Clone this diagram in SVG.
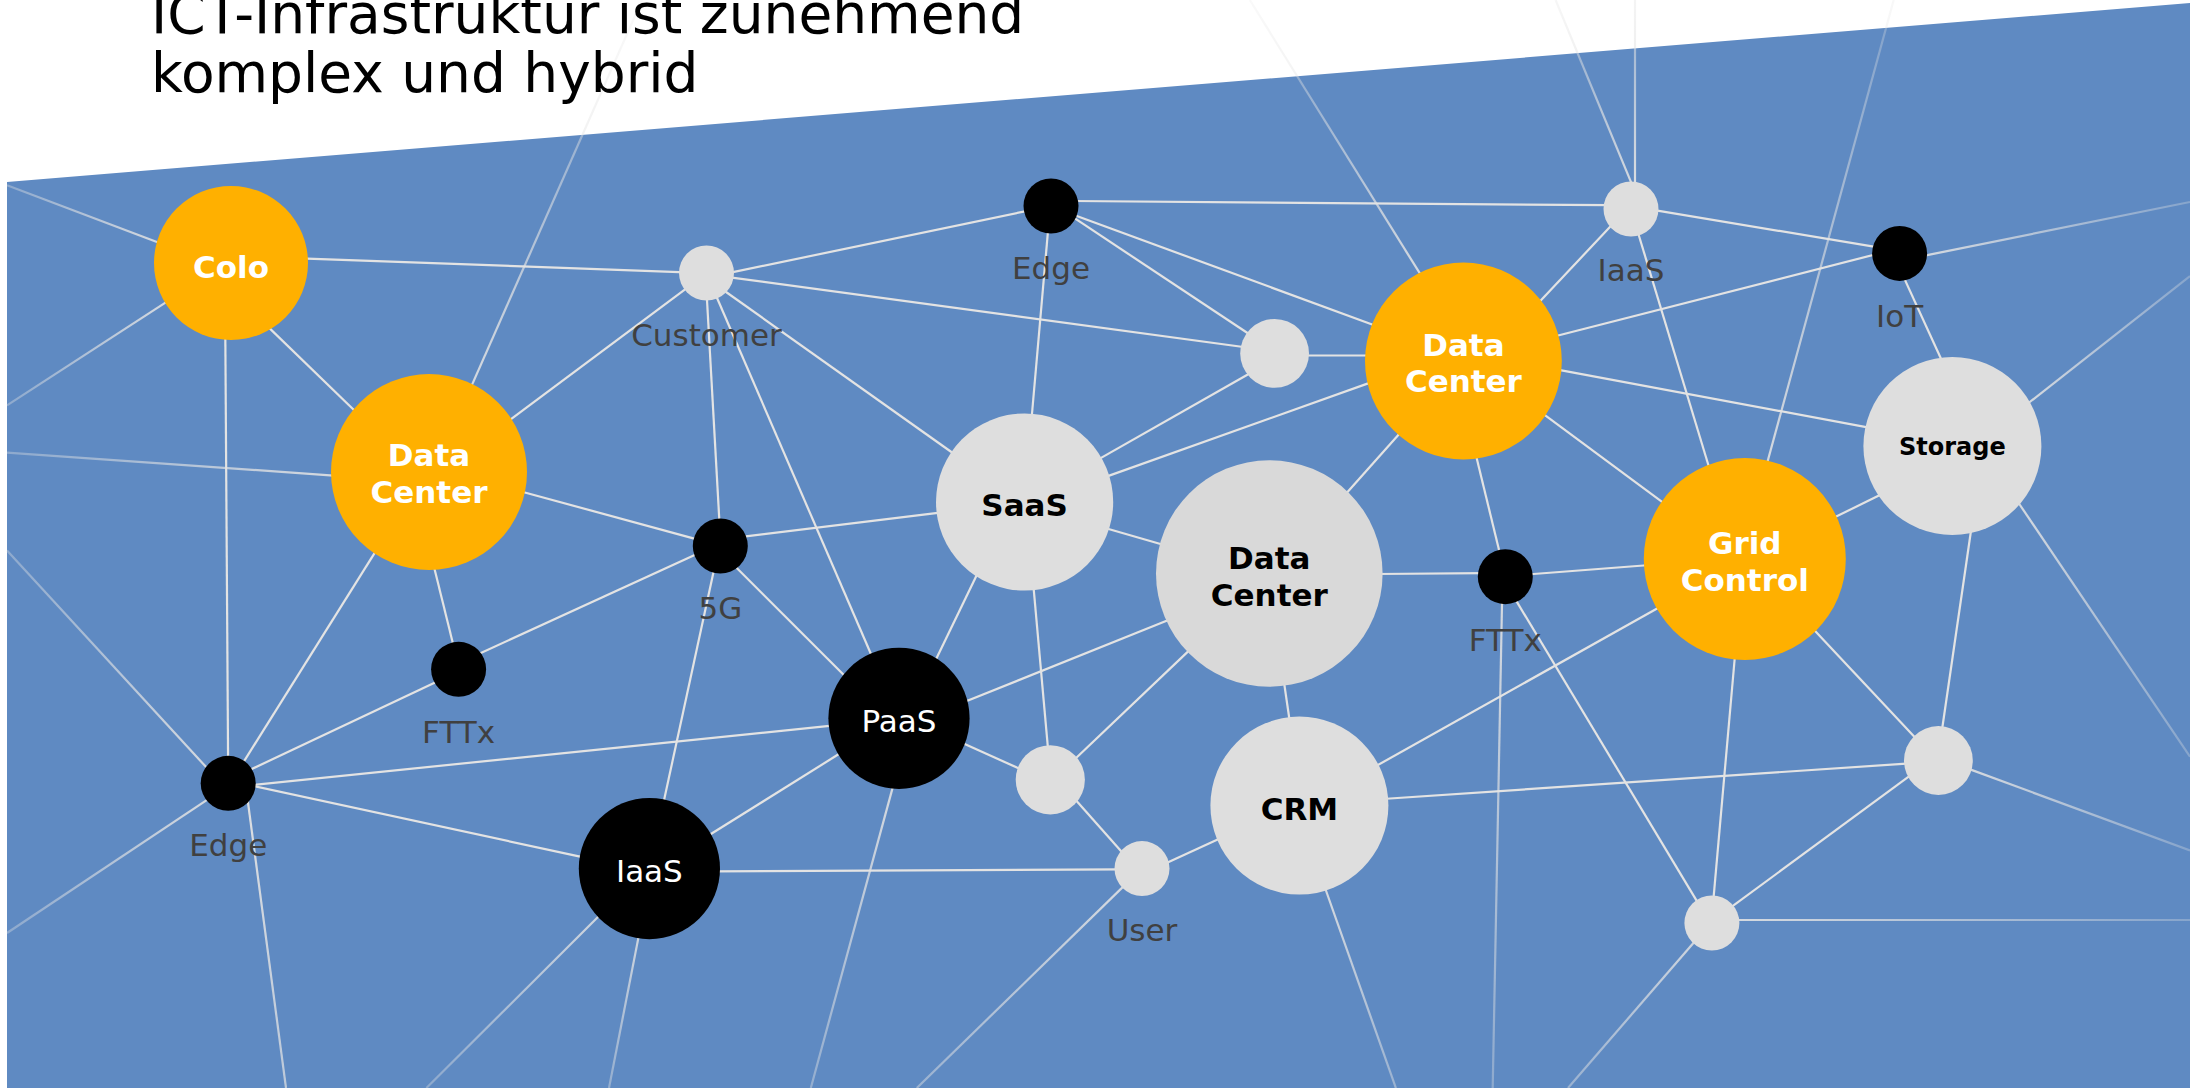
<svg xmlns="http://www.w3.org/2000/svg" width="2190" height="1088" viewBox="0 0 2190 1088">
<style>
.ln{stroke:#E3E3E3;stroke-width:2.2;fill:none;stroke-linecap:butt}
.ol{stroke-width:2.2;fill:none}
.org{fill:#FFB000}
.gry{fill:#DEDEDE}
.gry2{fill:#D9D9D9}
.blk{fill:#000000}
.t{font-family:"DejaVu Sans",Verdana,sans-serif;text-anchor:middle}
.lbl{font-size:31px;fill:#404040}
.bw{font-size:31px;font-weight:bold;fill:#FFFFFF}
.bb{font-size:31px;font-weight:bold;fill:#000000}
.nw{font-size:31px;fill:#FFFFFF}
.title{font-family:"DejaVu Sans",Verdana,sans-serif;font-size:55px;fill:#000000}
</style>
<defs>
<linearGradient id="o1" gradientUnits="userSpaceOnUse" x1="470.2" y1="388.9" x2="642" y2="0"><stop offset="0" stop-color="#E3E3E3" stop-opacity="0.9"/><stop offset="1" stop-color="#E3E3E3" stop-opacity="0.2"/></linearGradient>
<linearGradient id="o2" gradientUnits="userSpaceOnUse" x1="337" y1="475.8" x2="7" y2="452.6"><stop offset="0" stop-color="#E3E3E3" stop-opacity="0.9"/><stop offset="1" stop-color="#E3E3E3" stop-opacity="0.35"/></linearGradient>
<linearGradient id="o3" gradientUnits="userSpaceOnUse" x1="162.2" y1="244" x2="7" y2="185.2"><stop offset="0" stop-color="#E3E3E3" stop-opacity="0.9"/><stop offset="1" stop-color="#E3E3E3" stop-opacity="0.35"/></linearGradient>
<linearGradient id="o4" gradientUnits="userSpaceOnUse" x1="169.3" y1="300.1" x2="7" y2="405.4"><stop offset="0" stop-color="#E3E3E3" stop-opacity="0.9"/><stop offset="1" stop-color="#E3E3E3" stop-opacity="0.35"/></linearGradient>
<linearGradient id="o5" gradientUnits="userSpaceOnUse" x1="247.4" y1="798" x2="286" y2="1088"><stop offset="0" stop-color="#E3E3E3" stop-opacity="0.95"/><stop offset="1" stop-color="#E3E3E3" stop-opacity="0.7"/></linearGradient>
<linearGradient id="o6" gradientUnits="userSpaceOnUse" x1="210.3" y1="771.6" x2="7" y2="550.5"><stop offset="0" stop-color="#E3E3E3" stop-opacity="0.9"/><stop offset="1" stop-color="#E3E3E3" stop-opacity="0.35"/></linearGradient>
<linearGradient id="o7" gradientUnits="userSpaceOnUse" x1="211.2" y1="797.1" x2="7" y2="933"><stop offset="0" stop-color="#E3E3E3" stop-opacity="0.9"/><stop offset="1" stop-color="#E3E3E3" stop-opacity="0.35"/></linearGradient>
<linearGradient id="o8" gradientUnits="userSpaceOnUse" x1="1422.5" y1="277.7" x2="1249.8" y2="0"><stop offset="0" stop-color="#E3E3E3" stop-opacity="0.9"/><stop offset="1" stop-color="#E3E3E3" stop-opacity="0.2"/></linearGradient>
<linearGradient id="o9" gradientUnits="userSpaceOnUse" x1="1633.1" y1="187.2" x2="1555.6" y2="0"><stop offset="0" stop-color="#E3E3E3" stop-opacity="0.9"/><stop offset="1" stop-color="#E3E3E3" stop-opacity="0.3"/></linearGradient>
<linearGradient id="o10" gradientUnits="userSpaceOnUse" x1="1635" y1="188" x2="1635" y2="0"><stop offset="0" stop-color="#E3E3E3" stop-opacity="0.95"/><stop offset="1" stop-color="#E3E3E3" stop-opacity="0.4"/></linearGradient>
<linearGradient id="o11" gradientUnits="userSpaceOnUse" x1="1921" y1="256.4" x2="2190" y2="202"><stop offset="0" stop-color="#E3E3E3" stop-opacity="0.9"/><stop offset="1" stop-color="#E3E3E3" stop-opacity="0.3"/></linearGradient>
<linearGradient id="o12" gradientUnits="userSpaceOnUse" x1="1766.2" y1="466.5" x2="1893.7" y2="0"><stop offset="0" stop-color="#E3E3E3" stop-opacity="0.9"/><stop offset="1" stop-color="#E3E3E3" stop-opacity="0.25"/></linearGradient>
<linearGradient id="o13" gradientUnits="userSpaceOnUse" x1="2026" y1="405" x2="2190" y2="276"><stop offset="0" stop-color="#E3E3E3" stop-opacity="0.9"/><stop offset="1" stop-color="#E3E3E3" stop-opacity="0.3"/></linearGradient>
<linearGradient id="o14" gradientUnits="userSpaceOnUse" x1="2016.6" y1="500" x2="2190" y2="756.7"><stop offset="0" stop-color="#E3E3E3" stop-opacity="0.9"/><stop offset="1" stop-color="#E3E3E3" stop-opacity="0.3"/></linearGradient>
<linearGradient id="o15" gradientUnits="userSpaceOnUse" x1="1502.1" y1="598.7" x2="1492.7" y2="1088"><stop offset="0" stop-color="#E3E3E3" stop-opacity="0.9"/><stop offset="1" stop-color="#E3E3E3" stop-opacity="0.35"/></linearGradient>
<linearGradient id="o16" gradientUnits="userSpaceOnUse" x1="1324" y1="885" x2="1395.9" y2="1088"><stop offset="0" stop-color="#E3E3E3" stop-opacity="0.9"/><stop offset="1" stop-color="#E3E3E3" stop-opacity="0.45"/></linearGradient>
<linearGradient id="o17" gradientUnits="userSpaceOnUse" x1="1126.3" y1="883.6" x2="916.8" y2="1088"><stop offset="0" stop-color="#E3E3E3" stop-opacity="0.9"/><stop offset="1" stop-color="#E3E3E3" stop-opacity="0.45"/></linearGradient>
<linearGradient id="o18" gradientUnits="userSpaceOnUse" x1="893.9" y1="783.1" x2="810.8" y2="1088"><stop offset="0" stop-color="#E3E3E3" stop-opacity="0.9"/><stop offset="1" stop-color="#E3E3E3" stop-opacity="0.4"/></linearGradient>
<linearGradient id="o19" gradientUnits="userSpaceOnUse" x1="601.2" y1="913.8" x2="426.4" y2="1088"><stop offset="0" stop-color="#E3E3E3" stop-opacity="0.85"/><stop offset="1" stop-color="#E3E3E3" stop-opacity="0.35"/></linearGradient>
<linearGradient id="o20" gradientUnits="userSpaceOnUse" x1="639.2" y1="933.6" x2="609" y2="1088"><stop offset="0" stop-color="#E3E3E3" stop-opacity="0.85"/><stop offset="1" stop-color="#E3E3E3" stop-opacity="0.4"/></linearGradient>
<linearGradient id="o21" gradientUnits="userSpaceOnUse" x1="1966" y1="767.9" x2="2190" y2="850.4"><stop offset="0" stop-color="#E3E3E3" stop-opacity="0.9"/><stop offset="1" stop-color="#E3E3E3" stop-opacity="0.3"/></linearGradient>
<linearGradient id="o22" gradientUnits="userSpaceOnUse" x1="1733.5" y1="920" x2="2190" y2="920"><stop offset="0" stop-color="#E3E3E3" stop-opacity="0.9"/><stop offset="1" stop-color="#E3E3E3" stop-opacity="0.3"/></linearGradient>
<linearGradient id="o23" gradientUnits="userSpaceOnUse" x1="1699.9" y1="935.5" x2="1568" y2="1088"><stop offset="0" stop-color="#E3E3E3" stop-opacity="0.85"/><stop offset="1" stop-color="#E3E3E3" stop-opacity="0.45"/></linearGradient>
</defs>

<rect x="0" y="0" width="2190" height="1088" fill="#FFFFFF"/>
<polygon id="background" points="7,182 2190,3 2190,1088 7,1088" fill="#5F8AC2"/>

<g id="connectors">
<line class="ol" stroke="url(#o1)" x1="470.2" y1="388.9" x2="642" y2="0"/>
<line class="ol" stroke="url(#o2)" x1="337" y1="475.8" x2="7" y2="452.6"/>
<line class="ol" stroke="url(#o3)" x1="162.2" y1="244" x2="7" y2="185.2"/>
<line class="ol" stroke="url(#o4)" x1="169.3" y1="300.1" x2="7" y2="405.4"/>
<line class="ol" stroke="url(#o5)" x1="247.4" y1="798" x2="286" y2="1088"/>
<line class="ol" stroke="url(#o6)" x1="210.3" y1="771.6" x2="7" y2="550.5"/>
<line class="ol" stroke="url(#o7)" x1="211.2" y1="797.1" x2="7" y2="933"/>
<line class="ol" stroke="url(#o8)" x1="1422.5" y1="277.7" x2="1249.8" y2="0"/>
<line class="ol" stroke="url(#o9)" x1="1633.1" y1="187.2" x2="1555.6" y2="0"/>
<line class="ol" stroke="url(#o10)" x1="1635" y1="188" x2="1635" y2="0"/>
<line class="ol" stroke="url(#o11)" x1="1921" y1="256.4" x2="2190" y2="202"/>
<line class="ol" stroke="url(#o12)" x1="1766.2" y1="466.5" x2="1893.7" y2="0"/>
<line class="ol" stroke="url(#o13)" x1="2026" y1="405" x2="2190" y2="276"/>
<line class="ol" stroke="url(#o14)" x1="2016.6" y1="500" x2="2190" y2="756.7"/>
<line class="ol" stroke="url(#o15)" x1="1502.1" y1="598.7" x2="1492.7" y2="1088"/>
<line class="ol" stroke="url(#o16)" x1="1324" y1="885" x2="1395.9" y2="1088"/>
<line class="ol" stroke="url(#o17)" x1="1126.3" y1="883.6" x2="916.8" y2="1088"/>
<line class="ol" stroke="url(#o18)" x1="893.9" y1="783.1" x2="810.8" y2="1088"/>
<line class="ol" stroke="url(#o19)" x1="601.2" y1="913.8" x2="426.4" y2="1088"/>
<line class="ol" stroke="url(#o20)" x1="639.2" y1="933.6" x2="609" y2="1088"/>
<line class="ol" stroke="url(#o21)" x1="1966" y1="767.9" x2="2190" y2="850.4"/>
<line class="ol" stroke="url(#o22)" x1="1733.5" y1="920" x2="2190" y2="920"/>
<line class="ol" stroke="url(#o23)" x1="1699.9" y1="935.5" x2="1568" y2="1088"/>
<line class="ln" x1="300" y1="258.3" x2="686" y2="272.3"/>
<line class="ln" x1="266.6" y1="325.4" x2="357.3" y2="413.2"/>
<line class="ln" x1="225.3" y1="334" x2="228.1" y2="762"/>
<line class="ln" x1="507.2" y1="422" x2="689.1" y2="286.4"/>
<line class="ln" x1="520.2" y1="491.2" x2="698.8" y2="539.9"/>
<line class="ln" x1="433.6" y1="565.2" x2="454" y2="647.8"/>
<line class="ln" x1="241.5" y1="765.3" x2="377.2" y2="548.9"/>
<line class="ln" x1="246.3" y1="771.6" x2="438.8" y2="680.7"/>
<line class="ln" x1="476.5" y1="655" x2="698.5" y2="553.2"/>
<line class="ln" x1="249.5" y1="785.3" x2="834.3" y2="725.4"/>
<line class="ln" x1="249.6" y1="785.1" x2="584.7" y2="857.6"/>
<line class="ln" x1="728.1" y1="273.2" x2="1029.9" y2="210.3"/>
<line class="ln" x1="728" y1="277.1" x2="1247" y2="347.5"/>
<line class="ln" x1="721.1" y1="288.5" x2="954.9" y2="454.5"/>
<line class="ln" x1="715.1" y1="293.5" x2="872.7" y2="658"/>
<line class="ln" x1="706.7" y1="294.6" x2="719.6" y2="525"/>
<line class="ln" x1="739.5" y1="537.2" x2="942" y2="512.3"/>
<line class="ln" x1="732.5" y1="563.8" x2="847.6" y2="678.8"/>
<line class="ln" x1="714.6" y1="567.1" x2="663.1" y2="804.5"/>
<line class="ln" x1="1048.3" y1="227.5" x2="1031.5" y2="419.5"/>
<line class="ln" x1="1072.6" y1="201" x2="1609.9" y2="205.2"/>
<line class="ln" x1="1072" y1="214.2" x2="1377.6" y2="326.5"/>
<line class="ln" x1="1070" y1="215.2" x2="1252" y2="336"/>
<line class="ln" x1="1303" y1="355.5" x2="1371" y2="355.5"/>
<line class="ln" x1="1252.2" y1="372" x2="1095.8" y2="460.9"/>
<line class="ln" x1="1373.7" y1="381.4" x2="1104.3" y2="477.4"/>
<line class="ln" x1="1402.3" y1="430.5" x2="1344.4" y2="495.5"/>
<line class="ln" x1="1475.6" y1="453.8" x2="1500.5" y2="556"/>
<line class="ln" x1="1541.2" y1="412.4" x2="1667.8" y2="506.2"/>
<line class="ln" x1="1556.1" y1="369.4" x2="1871.6" y2="428.1"/>
<line class="ln" x1="1552.2" y1="337" x2="1878.1" y2="253.7"/>
<line class="ln" x1="1536.5" y1="305" x2="1613.9" y2="222.8"/>
<line class="ln" x1="1637.8" y1="232" x2="1710.1" y2="470.7"/>
<line class="ln" x1="1652.9" y1="209.8" x2="1878.2" y2="247.4"/>
<line class="ln" x1="1902.3" y1="274.1" x2="1943.3" y2="363.8"/>
<line class="ln" x1="1884" y1="493" x2="1830.6" y2="519.3"/>
<line class="ln" x1="1971.4" y1="528" x2="1941.7" y2="732"/>
<line class="ln" x1="1104.2" y1="527.8" x2="1164.8" y2="545.2"/>
<line class="ln" x1="1376.6" y1="574" x2="1484" y2="573.2"/>
<line class="ln" x1="1527" y1="574.5" x2="1650" y2="565"/>
<line class="ln" x1="1513.9" y1="596.9" x2="1699.3" y2="905.1"/>
<line class="ln" x1="1283.8" y1="680.8" x2="1289.9" y2="722.5"/>
<line class="ln" x1="1373.8" y1="767.3" x2="1662.9" y2="605.3"/>
<line class="ln" x1="1382.6" y1="799" x2="1910" y2="763.3"/>
<line class="ln" x1="1222" y1="837.5" x2="1164.3" y2="864.1"/>
<line class="ln" x1="1120.5" y1="869.3" x2="714" y2="871.4"/>
<line class="ln" x1="1124.5" y1="854.9" x2="1073.5" y2="797.5"/>
<line class="ln" x1="1191.3" y1="648.4" x2="1073.2" y2="760.8"/>
<line class="ln" x1="1171.6" y1="618.8" x2="961.8" y2="703"/>
<line class="ln" x1="1033.3" y1="584.7" x2="1048.3" y2="752.2"/>
<line class="ln" x1="960.2" y1="742" x2="1023.5" y2="770.5"/>
<line class="ln" x1="934.1" y1="663.2" x2="978.6" y2="571.3"/>
<line class="ln" x1="706.5" y1="836.8" x2="842.5" y2="751.8"/>
<line class="ln" x1="1811.6" y1="627.2" x2="1918.1" y2="740.8"/>
<line class="ln" x1="1735.1" y1="654" x2="1713.2" y2="901.8"/>
<line class="ln" x1="1913.1" y1="773.4" x2="1728.8" y2="908.9"/>
</g>

<g id="node-colo"><circle class="org" cx="231" cy="263" r="77"/><text class="t bw" x="231" y="278">Colo</text></g>
<g id="node-datacenter-left"><circle class="org" cx="429" cy="472" r="98"/><text class="t bw" x="429" y="466">Data</text><text class="t bw" x="429" y="503">Center</text></g>
<g id="node-customer"><circle class="gry" cx="706.5" cy="273" r="27.5"/><text class="t lbl" x="706.5" y="346">Customer</text></g>
<g id="node-edge-top"><circle class="blk" cx="1051" cy="206" r="27.5"/><text class="t lbl" x="1051" y="278.6">Edge</text></g>
<g id="node-saas"><circle class="gry" cx="1024.6" cy="502" r="88.6"/><text class="t bb" x="1024.6" y="515.5">SaaS</text></g>
<g id="node-5g"><circle class="blk" cx="720.3" cy="546" r="27.5"/><text class="t lbl" x="720.3" y="618.6">5G</text></g>
<g id="node-fttx-left"><circle class="blk" cx="458.6" cy="669.3" r="27.5"/><text class="t lbl" x="458.6" y="742.7">FTTx</text></g>
<g id="node-edge-left"><circle class="blk" cx="228.2" cy="783.3" r="27.5"/><text class="t lbl" x="228.2" y="856.3">Edge</text></g>
<g id="node-paas"><circle class="blk" cx="899" cy="718.3" r="70.6"/><text class="t nw" x="899" y="731.5">PaaS</text></g>
<g id="node-iaas-black"><circle class="blk" cx="649.4" cy="868.6" r="70.6"/><text class="t nw" x="649.4" y="881.8">IaaS</text></g>
<g id="node-small-1"><circle class="gry" cx="1050.3" cy="779.8" r="34.6"/></g>
<g id="node-user"><circle class="gry" cx="1142" cy="868.6" r="27.5"/><text class="t lbl" x="1142" y="941.3">User</text></g>
<g id="node-datacenter-gray"><circle class="gry2" cx="1269.3" cy="573.5" r="113.3"/><text class="t bb" x="1269.3" y="568.7">Data</text><text class="t bb" x="1269.3" y="605.7">Center</text></g>
<g id="node-crm"><circle class="gry" cx="1299.4" cy="805.6" r="89"/><text class="t bb" x="1299.4" y="819.6">CRM</text></g>
<g id="node-small-2"><circle class="gry" cx="1274.6" cy="353.4" r="34.4"/></g>
<g id="node-datacenter-right"><circle class="org" cx="1463.4" cy="361" r="98.4"/><text class="t bw" x="1463.4" y="355.8">Data</text><text class="t bw" x="1463.4" y="392.2">Center</text></g>
<g id="node-iaas-top"><circle class="gry" cx="1631" cy="209" r="27.5"/><text class="t lbl" x="1631" y="281.4">IaaS</text></g>
<g id="node-iot"><circle class="blk" cx="1899.6" cy="253.4" r="27.5"/><text class="t lbl" x="1899.6" y="327">IoT</text></g>
<g id="node-storage"><circle class="gry" cx="1952.4" cy="446" r="89"/><text class="t bb" x="1952.4" y="455.4" style="font-size:24px">Storage</text></g>
<g id="node-grid"><circle class="org" cx="1744.8" cy="559" r="101"/><text class="t bw" x="1744.8" y="553.5">Grid</text><text class="t bw" x="1744.8" y="590.7">Control</text></g>
<g id="node-fttx-right"><circle class="blk" cx="1505.3" cy="576.7" r="27.5"/><text class="t lbl" x="1505.3" y="651">FTTx</text></g>
<g id="node-small-3"><circle class="gry" cx="1938.4" cy="760.5" r="34.4"/></g>
<g id="node-small-4"><circle class="gry" cx="1711.9" cy="923" r="27.5"/></g>

<g id="title">
<text class="title" x="151" y="33">ICT-Infrastruktur ist zunehmend</text>
<text class="title" x="151" y="91.6">komplex und hybrid</text>
</g>
</svg>
